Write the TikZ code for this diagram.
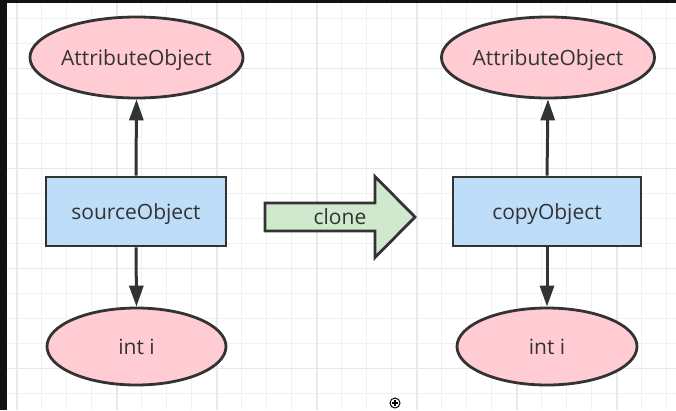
\documentclass[tikz,border=0pt]{standalone}
\usepackage{fontspec}
\setmainfont{Open Sans}
\usetikzlibrary{arrows.meta,shapes.geometric,positioning}

\definecolor{inkgray}{HTML}{333333}
\definecolor{attrpink}{HTML}{FFCCD3}
\definecolor{objblue}{HTML}{BEDDF8}
\definecolor{clonegreen}{HTML}{CFE8CE}
\definecolor{gridgray}{HTML}{F1F1F1}
\definecolor{gridbold}{HTML}{E8E8E8}

\tikzset{
  label text/.style={text=inkgray, font=\fontsize{21}{24}\selectfont,
    text height=15pt, text depth=0pt},
  field/.style={ellipse, draw=inkgray, line width=2.8pt, fill=attrpink,
    label text, inner sep=0pt},
  object/.style={rectangle, draw=inkgray, line width=2.8pt, fill=objblue,
    label text, minimum height=69pt},
  link/.style={draw=inkgray, line width=3pt, -{Triangle[length=21pt,width=14pt]}}
}

\begin{document}
\begin{tikzpicture}[x=1pt, y=-1pt]
\useasboundingbox (0,0) rectangle (676,410);
\fill[white] (0,0) rectangle (676,410);
% grid
\foreach \gx in {0,...,26} {
  \draw[gridgray, line width=1pt] (16.7+25*\gx,0) -- (16.7+25*\gx,410);
}
\foreach \gy in {0,...,16} {
  \draw[gridgray, line width=1pt] (0,18.3+25*\gy) -- (676,18.3+25*\gy);
}
\foreach \gx in {0,...,6} {
  \draw[gridbold, line width=1.6pt] (16.7+100*\gx,0) -- (16.7+100*\gx,410);
}
\foreach \gy in {0,...,3} {
  \draw[gridbold, line width=1.6pt] (0,68.3+100*\gy) -- (676,68.3+100*\gy);
}
\fill[black!93] (0,0) rectangle (676,3);
\fill[black!93] (0,0) rectangle (7,410);

% left side
\node[field, minimum width=212pt, minimum height=81pt] (attrL) at (136.5,57.5) {AttributeObject};
\node[object, minimum width=180pt] (srcObj) at (136,211.5) {sourceObject};
\node[field, minimum width=179pt, minimum height=77pt] (intL) at (136.5,346.5) {int i};

% right side
\node[field, minimum width=211pt, minimum height=81pt] (attrR) at (548,57.5) {AttributeObject};
\node[object, minimum width=188pt] (copyObj) at (547,211.5) {copyObject};
\node[field, minimum width=180pt, minimum height=77pt] (intR) at (547,346.5) {int i};

\path[link] (srcObj.north) -- (attrL.south);
\path[link] (srcObj.south) -- (intL.north);
\path[link] (copyObj.north) -- (attrR.south);
\path[link] (copyObj.south) -- (intR.north);

% clone arrow
\draw[inkgray, line width=2.8pt, fill=clonegreen, line join=miter]
  (265,203) -- (375,203) -- (375,176.5) -- (415,217) -- (375,257.5)
  -- (375,231) -- (265,231) -- cycle;
\node[label text, inner sep=0pt] (clone) at (340,217) {clone};

% cursor
\draw[black, line width=1pt, fill=white] (395,403) circle (5pt);
\draw[black, line width=1.4pt] (392,403) -- (398,403) (395,400) -- (395,406);
\end{tikzpicture}
\end{document}
